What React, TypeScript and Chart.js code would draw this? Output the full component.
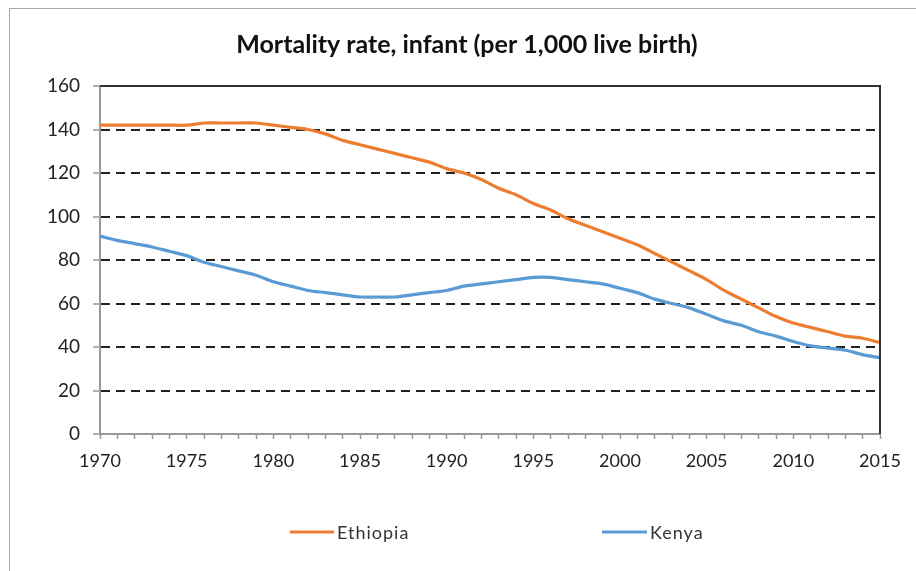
import React, { useEffect, useRef } from "react";
import { Chart, registerables } from "chart.js";

Chart.register(...registerables);

const years: string[] = [];
for (let y = 1970; y <= 2015; y++) years.push(String(y));

const ethiopia = [
  142, 142, 142, 142, 142, 142, 143, 143, 143, 143,
  142, 141, 140, 138, 135, 133, 131, 129, 127, 125,
  122, 120, 117, 113, 110, 106, 103, 99, 96, 93,
  90, 87, 83, 79, 75, 71, 66, 62, 58, 54,
  51, 49, 47, 45, 44, 42,
];

const kenya = [
  91, 89, 87.5, 86, 84, 82, 79, 77, 75, 73,
  70, 68, 66, 65, 64, 63, 63, 63, 64, 65,
  66, 68, 69, 70, 71, 72, 72, 71, 70, 69,
  67, 65, 62, 60, 58, 55, 52, 50, 47, 45,
  42.5, 40.5, 39.5, 38.5, 36.5, 35,
];

const yTicks = [0, 20, 40, 60, 80, 100, 120, 140, 160];
const seriesNames = ["Ethiopia", "Kenya"];
const seriesColors = ["#ED7D31", "#5B9BD5"];
const titleText = "Mortality rate, infant (per 1,000 live birth)";

const FONT = "Lato, 'Open Sans', sans-serif";

export default function App() {
  const ref = useRef<HTMLCanvasElement | null>(null);

  useEffect(() => {
    if (!ref.current) return;

    const framePlugin = {
      id: "frame",
      afterDraw(chart: any) {
        const { ctx, chartArea } = chart;
        ctx.save();
        ctx.strokeStyle = "#333";
        ctx.lineWidth = 2;
        ctx.beginPath();
        ctx.moveTo(chartArea.left, chartArea.top);
        ctx.lineTo(chartArea.right, chartArea.top);
        ctx.lineTo(chartArea.right, chartArea.bottom);
        ctx.stroke();
        ctx.restore();
      },
    };

    const titlePlugin = {
      id: "customTitle",
      afterDraw(chart: any) {
        const { ctx } = chart;
        ctx.save();
        ctx.font = `bold 25px ${FONT}`;
        ctx.fillStyle = "#111";
        ctx.textAlign = "center";
        ctx.textBaseline = "middle";
        ctx.fillText(titleText, 467, 45);
        ctx.restore();
      },
    };

    const legendPlugin = {
      id: "customLegend",
      afterDraw(chart: any) {
        const { ctx } = chart;
        const items = [
          { x1: 290, x2: 334, tx: 337 },
          { x1: 602, x2: 647, tx: 650 },
        ];
        ctx.save();
        ctx.font = `18px ${FONT}`;
        (ctx as any).letterSpacing = "1px";
        ctx.textBaseline = "middle";
        ctx.textAlign = "left";
        chart.data.datasets.forEach((ds: any, i: number) => {
          const it = items[i];
          const y = 532;
          ctx.strokeStyle = ds.borderColor;
          ctx.lineWidth = 3;
          ctx.beginPath();
          ctx.moveTo(it.x1, y);
          ctx.lineTo(it.x2, y);
          ctx.stroke();
          ctx.fillStyle = "#333";
          ctx.fillText(ds.label, it.tx, y + 1);
        });
        ctx.restore();
      },
    };

    const chart = new Chart(ref.current, {
      type: "line",
      data: {
        labels: years,
        datasets: [
          {
            label: seriesNames[0],
            data: ethiopia,
            borderColor: seriesColors[0],
            backgroundColor: seriesColors[0],
            borderWidth: 3.2,
            pointRadius: 0,
            tension: 0.3,
          },
          {
            label: seriesNames[1],
            data: kenya,
            borderColor: seriesColors[1],
            backgroundColor: seriesColors[1],
            borderWidth: 3.2,
            pointRadius: 0,
            tension: 0.3,
          },
        ],
      },
      options: {
        animation: false,
        responsive: false,
        maintainAspectRatio: false,
        layout: { padding: { top: 86, left: 0, right: 36, bottom: 97 } },
        plugins: {
          legend: { display: false },
          tooltip: { enabled: false },
          title: { display: false },
        },
        scales: {
          x: {
            type: "category",
            offset: false,
            grid: {
              drawOnChartArea: false,
              drawTicks: true,
              tickLength: 5,
              tickColor: "#999",
              tickWidth: 1.5,
            },
            border: { display: true, color: "#999", width: 2 },
            ticks: {
              autoSkip: false,
              maxRotation: 0,
              padding: 11,
              color: "#222",
              font: { family: FONT, size: 18 },
              callback: (_v: any, i: number) =>
                Number(years[i]) % 5 === 0 ? years[i] : "",
            },
            afterFit: (s: any) => {
              s.height = 40;
            },
          },
          y: {
            min: 0,
            max: 160,
            afterBuildTicks: (s: any) => {
              s.ticks = yTicks.map((v) => ({ value: v }));
            },
            grid: {
              color: (c: any) =>
                c.tick && (c.tick.value === 0 || c.tick.value === 160)
                  ? "rgba(0,0,0,0)"
                  : "#222",
              lineWidth: 2,
              drawTicks: true,
              tickLength: 7,
              tickColor: "#999",
              tickWidth: 1.5,
            },
            border: { display: true, color: "#999", width: 2, dash: [9, 6] },
            ticks: {
              padding: 13,
              color: "#222",
              font: { family: FONT, size: 19 },
            },
            afterFit: (s: any) => {
              s.width = 100;
            },
          },
        },
      },
      plugins: [framePlugin, titlePlugin, legendPlugin],
    });

    return () => chart.destroy();
  }, []);

  return (
    <div style={{ position: "fixed", left: 0, top: 0, width: 916, height: 571, background: "#fff" }}>
      <div
        style={{
          position: "absolute",
          left: 9,
          top: 8,
          width: 920,
          height: 600,
          border: "1.5px solid #aaa",
          boxSizing: "border-box",
        }}
      />
      <canvas
        ref={ref}
        width={916}
        height={571}
        style={{ position: "absolute", left: 0, top: 0, width: 916, height: 571 }}
      />
    </div>
  );
}
